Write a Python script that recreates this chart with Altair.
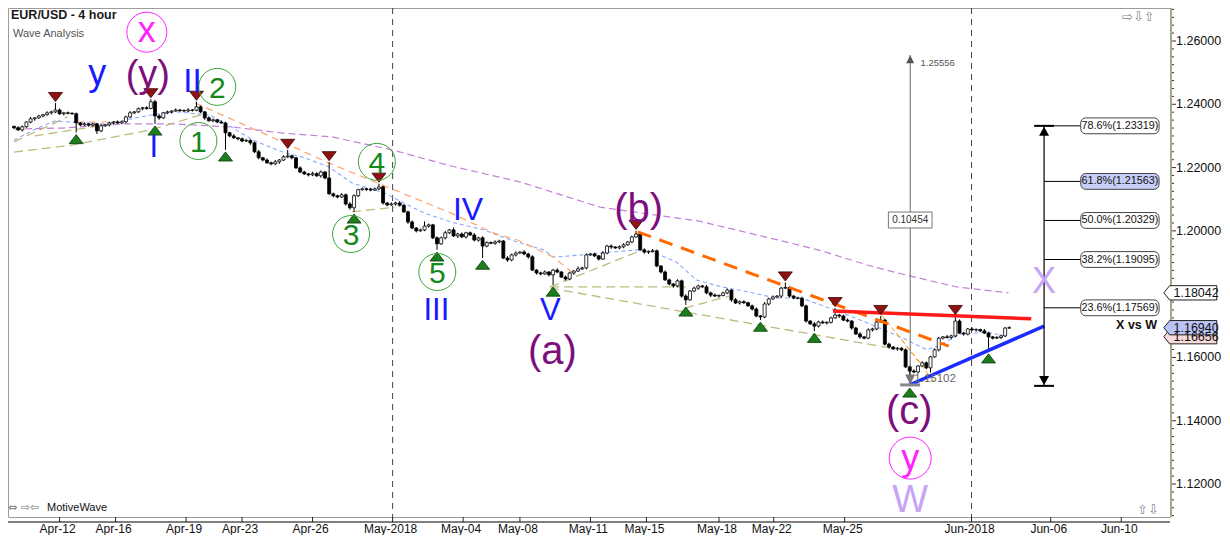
import altair as alt
import pandas as pd

# ---------------- data ----------------
first_open = 1.2330
closes = [
    1.2326, 1.2319, 1.2329, 1.2344, 1.2354, 1.2357, 1.2363, 1.2367, 1.2373, 1.2376,
    1.2382, 1.2370, 1.2373, 1.2372, 1.2370, 1.2341, 1.2335, 1.2338, 1.2334, 1.2338,
    1.2316, 1.2332, 1.2335, 1.2341, 1.2344, 1.2341, 1.2345, 1.2360, 1.2373, 1.2376,
    1.2386, 1.2389, 1.2387, 1.2408, 1.2363, 1.2357, 1.2373, 1.2376, 1.2379, 1.2382,
    1.2380, 1.2379, 1.2382, 1.2381, 1.2392, 1.2376, 1.2357, 1.2348, 1.2351, 1.2344,
    1.2341, 1.2310, 1.2300, 1.2294, 1.2291, 1.2284, 1.2286, 1.2278, 1.2250, 1.2231,
    1.2224, 1.2215, 1.2212, 1.2218, 1.2224, 1.2234, 1.2237, 1.2231, 1.2199, 1.2186,
    1.2180, 1.2177, 1.2181, 1.2174, 1.2186, 1.2167, 1.2117, 1.2111, 1.2107, 1.2114,
    1.2085, 1.2073, 1.2111, 1.2130, 1.2133, 1.2131, 1.2129, 1.2133, 1.2139, 1.2088,
    1.2082, 1.2085, 1.2088, 1.2081, 1.2060, 1.2028, 1.2009, 1.2000, 1.2003, 1.2015,
    1.2019, 1.1978, 1.1959, 1.1978, 1.1994, 1.2003, 1.1984, 1.1990, 1.1981, 1.1994,
    1.1987, 1.1971, 1.1978, 1.1952, 1.1963, 1.1961, 1.1965, 1.1968, 1.1914, 1.1908,
    1.1924, 1.1930, 1.1933, 1.1927, 1.1918, 1.1876, 1.1867, 1.1864, 1.1870, 1.1861,
    1.1876, 1.1870, 1.1854, 1.1848, 1.1867, 1.1873, 1.1880, 1.1883, 1.1924, 1.1927,
    1.1921, 1.1911, 1.1930, 1.1952, 1.1949, 1.1946, 1.1950, 1.1956, 1.1965, 1.1981,
    1.1990, 1.1940, 1.1933, 1.1935, 1.1937, 1.1889, 1.1870, 1.1845, 1.1832, 1.1826,
    1.1842, 1.1794, 1.1782, 1.1810, 1.1819, 1.1826, 1.1823, 1.1804, 1.1797, 1.1794,
    1.1796, 1.1804, 1.1813, 1.1782, 1.1772, 1.1776, 1.1773, 1.1763, 1.1753, 1.1731,
    1.1728, 1.1769, 1.1785, 1.1791, 1.1794, 1.1819, 1.1821, 1.1794, 1.1788, 1.1787,
    1.1763, 1.1715, 1.1706, 1.1699, 1.1712, 1.1709, 1.1711, 1.1725, 1.1734, 1.1731,
    1.1718, 1.1715, 1.1693, 1.1674, 1.1665, 1.1661, 1.1687, 1.1690, 1.1712, 1.1718,
    1.1642, 1.1633, 1.1627, 1.1629, 1.1624, 1.1570, 1.1557, 1.1554, 1.1573, 1.1583,
    1.1567, 1.1602, 1.1624, 1.1661, 1.1665, 1.1663, 1.1668, 1.1715, 1.1677, 1.1674,
    1.1690, 1.1687, 1.1688, 1.1684, 1.1677, 1.1665, 1.1661, 1.1663, 1.1668, 1.1693,
    1.1694,
]
upper_wick_pips = [
    3, 5, 4, 2, 6, 3, 4, 3, 5, 4,   22, 5, 3, 4, 2, 4, 3, 5, 2, 4,
    3, 6, 2, 4, 3, 5, 3, 4, 6, 3,   4, 3, 5, 8, 6, 5, 3, 4, 2, 5,
    3, 4, 6, 3, 16, 4, 3, 5, 4, 3,  5, 4, 3, 6, 2, 4, 5, 3, 4, 6,
    3, 5, 4, 6, 3, 5, 19, 4, 3, 5,  4, 3, 6, 4, 5, 3, 50, 4, 3, 5,
    4, 6, 5, 3, 4, 3, 5, 4, 10, 4,  3, 5, 4, 6, 3, 4, 5, 3, 4, 15,
    4, 3, 5, 4, 6, 3, 8, 4, 5, 3,   4, 6, 3, 5, 4, 3, 5, 4, 3, 6,
    4, 5, 3, 6, 4, 5, 3, 4, 5, 3,   4, 6, 3, 5, 4, 3, 8, 4, 5, 3,
    4, 3, 6, 4, 5, 3, 4, 5, 3, 4,   10, 4, 5, 3, 6, 4, 3, 5, 4, 3,
    5, 4, 6, 3, 5, 4, 3, 6, 4, 5,   3, 4, 5, 3, 6, 4, 5, 3, 4, 5,
    3, 6, 4, 5, 3, 4, 16, 5, 3, 4,  5, 4, 3, 6, 4, 5, 3, 4, 22, 4,
    4, 5, 3, 4, 6, 3, 5, 4, 3, 13,  4, 5, 3, 4, 3, 5, 4, 6, 3, 5,
    4, 3, 5, 4, 3, 6, 4, 16, 5, 4,  3, 5, 4, 3, 6, 4, 3, 5, 4, 3,
    4,
]
lower_wick_pips = [
    4, 3, 5, 3, 4, 6, 3, 4, 3, 5,   4, 3, 5, 4, 3, 30, 4, 3, 5, 4,
    10, 4, 3, 5, 4, 3, 4, 5, 3, 4,  3, 5, 4, 3, 25, 6, 3, 4, 5, 3,
    4, 3, 5, 4, 3, 4, 6, 3, 5, 4,   3, 54, 4, 3, 5, 4, 3, 6, 4, 5,
    4, 3, 5, 4, 6, 3, 4, 5, 3, 4,   3, 5, 4, 3, 6, 4, 3, 5, 4, 3,
    5, 6, 13, 4, 3, 5, 4, 3, 4, 5,  4, 3, 5, 4, 3, 6, 4, 5, 3, 4,
    5, 4, 19, 3, 5, 4, 3, 6, 4, 5,  3, 4, 5, 38, 4, 3, 5, 4, 3, 6,
    4, 5, 3, 4, 6, 3, 5, 4, 3, 5,   32, 4, 3, 5, 4, 6, 3, 4, 5, 3,
    4, 5, 3, 4, 6, 3, 4, 5, 3, 4,   3, 4, 5, 6, 3, 4, 5, 3, 4, 6,
    4, 5, 16, 3, 4, 5, 3, 4, 6, 3,  5, 3, 4, 6, 3, 5, 4, 3, 5, 4,
    10, 4, 5, 3, 4, 6, 3, 5, 4, 3,  4, 5, 3, 16, 4, 3, 5, 4, 3, 6,
    3, 4, 5, 3, 6, 4, 3, 5, 4, 3,   4, 5, 3, 6, 4, 3, 47, 4, 5, 3,
    4, 15, 3, 5, 4, 3, 6, 4, 3, 5,  4, 3, 5, 4, 3, 47, 4, 3, 5, 4,
    3,
]
swing_high_bars = [10, 33, 44, 66, 76, 88, 150, 186, 198, 209, 227]
swing_low_bars = [15, 34, 51, 82, 102, 113, 130, 162, 180, 193, 216, 235]

date_tick_pos = [11, 24.5, 41.5, 55, 72, 91.3, 108.3, 122, 139, 152.5, 170, 183.2, 200.3, 230.9, 250, 267]
date_tick_labels = ["Apr-12", "Apr-16", "Apr-19", "Apr-23", "Apr-26", "May-2018", "May-04", "May-08",
                    "May-11", "May-15", "May-18", "May-22", "May-25", "Jun-2018", "Jun-06", "Jun-10"]
month_start_pos = [91.3, 230.9]
# 1.18000 is hidden behind the 1.18042 price tag in the reference
price_labels = [1.12, 1.14, 1.16, 1.20, 1.22, 1.24, 1.26]

slow_ma_bar = [0, 12, 26.5, 38.5, 52.8, 64.8, 76.7, 91.1, 105.4, 122.2, 141.3, 153.2, 165.2,
               184.3, 193.9, 205.8, 213.0, 227.3, 239.8]
slow_ma_price = [1.2322, 1.2325, 1.2338, 1.2338, 1.2328, 1.2309, 1.2297, 1.2256, 1.2205, 1.2154,
                 1.2075, 1.2053, 1.2031, 1.1971, 1.1940, 1.1892, 1.1867, 1.1823, 1.18042]
fast_ma_bar = [0, 5.7, 9.8, 13.9, 21.8, 33.0, 39.2, 47.3, 53.6, 57.6, 61.7, 65.5, 69.6, 76.0,
               81.5, 89.4, 93.5, 99.0, 105.4, 113.3, 119.8, 127.7, 130.1, 137.0, 143.7, 150.8,
               154.0, 159.7, 164.5, 170.7, 177.1, 183.6, 189.8, 197.9, 205.8, 213.7, 220.2,
               223.3, 228.1, 234.5, 239.3]
fast_ma_price = [1.2287, 1.2325, 1.2347, 1.2344, 1.2338, 1.2366, 1.2376, 1.2366, 1.2319, 1.2287,
                 1.2265, 1.2246, 1.2233, 1.2202, 1.2151, 1.2120, 1.2091, 1.2056, 1.2028, 1.2003,
                 1.1971, 1.1940, 1.1917, 1.1924, 1.1933, 1.1940, 1.1933, 1.1902, 1.1845, 1.1823,
                 1.1807, 1.1788, 1.1788, 1.1750, 1.1709, 1.1665, 1.1624, 1.1639, 1.1674, 1.1680,
                 1.1668]
mid_ma_seg1_bar = [15.3, 25.8]
mid_ma_seg1_price = [1.2344, 1.2344]
mid_ma_seg2_bar = [43.7, 60.0, 76.0, 93.5, 105.4, 115.7, 121.4, 130.1, 134.8]
mid_ma_seg2_price = [1.2404, 1.2309, 1.2214, 1.2120, 1.2056, 1.1993, 1.1971, 1.1917, 1.1867]

olive_lines = [  # zig-zag connectors (bar, price)
    ([0, 13.9, 33.0, 45.7], [1.2249, 1.2271, 1.2319, 1.2369]),
    ([0, 12.9], [1.2281, 1.2360]),
    ([5.0, 24.9], [1.2300, 1.2341]),
    ([81.5, 91.8], [1.2060, 1.2075]),
    ([129.3, 150.8], [1.1823, 1.1936]),
    ([129.3, 162.8], [1.1823, 1.1823]),
    ([129.3, 179.5, 211.3], [1.1819, 1.1703, 1.1630]),
    ([161.8, 172.4], [1.1756, 1.1794]),
]
c_thin_lines = [([209.2, 219.0], [1.1734, 1.1576]), ([212.8, 221.9], [1.1677, 1.1523])]
orange_trend_bar = [150.4, 225.4]
orange_trend_price = [1.1997, 1.1636]
red_trend_bar = [197.5, 245.3]
red_trend_price = [1.1747, 1.1722]
blue_trend_bar = [215.9, 248.4]
blue_trend_price = [1.1513, 1.1699]

measure_bar = 216.11
measure_low = 1.15102
measure_high = 1.25556

fib_bar = 248.39
fib_top = 1.23319
fib_pct = ["78.6%", "61.8%", "50.0%", "38.2%", "23.6%"]
fib_price = [1.23319, 1.21563, 1.20329, 1.19095, 1.17569]

tag_prices = [1.16656, 1.16940, 1.18042]

# ---------------- derived tables ----------------
n = len(closes)
opens = [first_open] + closes[:-1]
highs = [round(max(o, c) + u * 0.0001, 5) for o, c, u in zip(opens, closes, upper_wick_pips)]
lows = [round(min(o, c) - d * 0.0001, 5) for o, c, d in zip(opens, closes, lower_wick_pips)]
candles = pd.DataFrame({"bar": list(range(n)), "open": opens, "close": closes, "high": highs, "low": lows})

W, H = 1162, 509
xs = alt.Scale(domain=[-0.239, 277.55], nice=False, zero=False)
ys = alt.Scale(domain=[1.10958, 1.27043], nice=False, zero=False)


def X(f="bar"):
    return alt.X(f"{f}:Q", scale=xs, axis=None)


def Y(f="price"):
    return alt.Y(f"{f}:Q", scale=ys, axis=None)


def poly(lines):
    rows = []
    for k, (bs, ps) in enumerate(lines):
        for b, p in zip(bs, ps):
            rows.append({"bar": b, "price": p, "seg": k})
    return pd.DataFrame(rows)


FONT = "Liberation Sans"
BLUE = "#1a1aff"
PURPLE = "#7d0f7d"
GREEN = "#14891a"
GREEN_C = "#3aa53a"
MAGENTA = "#ff22ff"
LAVENDER = "#c6a4f6"

layers = []

# month separators
layers.append(alt.Chart(pd.DataFrame({"bar": month_start_pos})).mark_rule(
    color="#444", strokeDash=[6, 5], strokeWidth=1).encode(x=X()))

# ---- axes drawn as marks ----
xlab = pd.DataFrame({"bar": date_tick_pos, "t": date_tick_labels})
layers.append(alt.Chart(xlab).mark_rule(color="#222").encode(
    x=X(), y=alt.value(H), y2=alt.value(H + 5)))
layers.append(alt.Chart(pd.DataFrame({"k": [0]})).mark_rule(color="black", strokeWidth=1).encode(
    x=alt.value(0), x2=alt.value(W), y=alt.value(H + 5)))
layers.append(alt.Chart(xlab).mark_text(align="center", baseline="top", font=FONT, fontSize=12,
                                        color="#111", dx=-2).encode(x=X(), y=alt.value(H + 7), text="t:N"))
ticks = pd.DataFrame({"price": [round(1.11 + 0.0025 * k, 4) for k in range(65)]})
ticks["major"] = [abs(p * 50 - round(p * 50)) < 1e-6 for p in ticks["price"]]
layers.append(alt.Chart(ticks[~ticks.major]).mark_rule(color="#333", strokeWidth=1).encode(
    y=Y(), x=alt.value(W), x2=alt.value(W + 4)))
layers.append(alt.Chart(ticks[ticks.major]).mark_rule(color="#333", strokeWidth=1).encode(
    y=Y(), x=alt.value(W), x2=alt.value(W + 6)))
layers.append(alt.Chart(pd.DataFrame({"k": [0]})).mark_rule(color="#a6a68a", strokeWidth=2).encode(
    x=alt.value(W + 1), y=alt.value(0), y2=alt.value(H)))
ylab = pd.DataFrame({"price": price_labels, "t": [f"{p:.5f}" for p in price_labels]})
layers.append(alt.Chart(ylab).mark_text(align="left", baseline="middle", font=FONT, fontSize=12.5,
                                        color="#111").encode(x=alt.value(W + 6), y=Y(), text="t:N"))

# moving averages
layers.append(alt.Chart(pd.DataFrame({"bar": slow_ma_bar, "price": slow_ma_price})).mark_line(
    color="#c57fd8", strokeDash=[7, 4], strokeWidth=1.2).encode(x=X(), y=Y()))
layers.append(alt.Chart(pd.DataFrame({"bar": fast_ma_bar, "price": fast_ma_price})).mark_line(
    color="#86a8ff", strokeDash=[4, 3], strokeWidth=1.1).encode(x=X(), y=Y()))
layers.append(alt.Chart(poly([(mid_ma_seg1_bar, mid_ma_seg1_price), (mid_ma_seg2_bar, mid_ma_seg2_price)]))
              .mark_line(color="#ffa36a", strokeDash=[7, 5], strokeWidth=1.2)
              .encode(x=X(), y=Y(), detail="seg:N"))
layers.append(alt.Chart(poly(olive_lines)).mark_line(
    color="#c0b97e", strokeDash=[9, 5], strokeWidth=1.3).encode(x=X(), y=Y(), detail="seg:N"))
layers.append(alt.Chart(poly(c_thin_lines)).mark_line(
    color="#ff9d1a", strokeDash=[5, 3], strokeWidth=1).encode(x=X(), y=Y(), detail="seg:N"))

# measurement tool
layers.append(alt.Chart(pd.DataFrame({"bar": [measure_bar], "lo": [measure_low], "hi": [measure_high]}))
              .mark_rule(color="#666", strokeWidth=1).encode(x=X(), y=Y("lo"), y2="hi:Q"))

# candles
layers.append(alt.Chart(candles).mark_rule(color="black", strokeWidth=1).encode(
    x=X(), y=Y("low"), y2="high:Q"))
layers.append(alt.Chart(candles).mark_bar(size=3, stroke="black", strokeWidth=0.8).encode(
    x=X(), y=Y("open"), y2="close:Q",
    fill=alt.condition("datum.close >= datum.open", alt.value("white"), alt.value("black"))))

# trend lines
layers.append(alt.Chart(pd.DataFrame({"bar": orange_trend_bar, "price": orange_trend_price})).mark_line(
    color="#ff6a00", strokeDash=[14, 9], strokeWidth=3).encode(x=X(), y=Y()))
layers.append(alt.Chart(pd.DataFrame({"bar": red_trend_bar, "price": red_trend_price})).mark_line(
    color="#ff1a1a", strokeWidth=3.5).encode(x=X(), y=Y()))
layers.append(alt.Chart(pd.DataFrame({"bar": blue_trend_bar, "price": blue_trend_price})).mark_line(
    color="#1a2cff", strokeWidth=3.5).encode(x=X(), y=Y()))

# swing markers
TRI_DOWN = "M-1,-0.65L1,-0.65L0,0.65Z"
TRI_UP = "M-1,0.65L1,0.65L0,-0.65Z"
hi_df = candles[candles.bar.isin(swing_high_bars)].assign(price=lambda d: d.high + 0.0019)
lo_df = candles[candles.bar.isin(swing_low_bars)].assign(price=lambda d: d.low - 0.0021)
layers.append(alt.Chart(hi_df).mark_point(shape=TRI_DOWN, size=196, filled=True, fill="#8e1212",
                                          stroke="#3a0000", strokeWidth=0.8, opacity=1)
              .encode(x=X(), y=Y()))
layers.append(alt.Chart(lo_df).mark_point(shape=TRI_UP, size=196, filled=True, fill="#1d7d1d",
                                          stroke="#063806", strokeWidth=0.8, opacity=1)
              .encode(x=X(), y=Y()))

# measurement tool details
SMALL_UP = "M-1,1L1,1L0,-1Z"
SMALL_DOWN = "M-1,-1L1,-1L0,1Z"
layers.append(alt.Chart(pd.DataFrame({"bar": [measure_bar], "price": [measure_high - 0.0013]}))
              .mark_point(shape=SMALL_UP, size=64, filled=True, fill="#555", opacity=1).encode(x=X(), y=Y()))
layers.append(alt.Chart(pd.DataFrame({"bar": [218.6], "price": [1.2521], "t": [f"{measure_high:.5f}"]}))
              .mark_text(align="left", baseline="alphabetic", font=FONT, fontSize=9.5, color="#555")
              .encode(x=X(), y=Y(), text="t:N"))
layers.append(alt.Chart(pd.DataFrame({"bar": [210.85], "bar2": [221.37], "p1": [1.20091], "p2": [1.20596]}))
              .mark_rect(fill="white", stroke="#777", strokeWidth=1)
              .encode(x=X(), x2="bar2:Q", y=Y("p1"), y2="p2:Q"))
layers.append(alt.Chart(pd.DataFrame({"bar": [measure_bar], "price": [1.20344],
                                      "t": [f"{measure_high - measure_low:.5f}"]}))
              .mark_text(align="center", baseline="middle", font=FONT, fontSize=10, color="#333")
              .encode(x=X(), y=Y(), text="t:N"))
layers.append(alt.Chart(pd.DataFrame({"bar": [213.7], "bar2": [218.5], "price": [measure_low + 0.0003]}))
              .mark_rule(color="#888", strokeWidth=3).encode(x=X(), x2="bar2:Q", y=Y()))
layers.append(alt.Chart(pd.DataFrame({"bar": [measure_bar], "price": [measure_low + 0.0020]}))
              .mark_point(shape=SMALL_DOWN, size=100, filled=True, fill="#777", opacity=1).encode(x=X(), y=Y()))
layers.append(alt.Chart(pd.DataFrame({"bar": [217.1], "price": [1.1521], "t": [f"{measure_low:.5f}"]}))
              .mark_text(align="left", baseline="alphabetic", font=FONT, fontSize=11.5, color="#666")
              .encode(x=X(), y=Y(), text="t:N"))

# fibonacci tool
fib = pd.DataFrame({"pct": fib_pct, "price": fib_price})
fib["label"] = [f"{p}({v:.5f})" for p, v in zip(fib_pct, fib_price)]
fib["fill"] = ["#c6cef7" if p == "61.8%" else "white" for p in fib_pct]
fib["bar"] = fib_bar
fib["bar2"] = 257.23
fib["bx1"] = 257.23
fib["bx2"] = 276.12
fib["p1"] = fib["price"] - 0.0025
fib["p2"] = fib["price"] + 0.0025
fib["tx"] = 266.7
layers.append(alt.Chart(pd.DataFrame({"bar": [fib_bar], "lo": [measure_low], "hi": [fib_top]}))
              .mark_rule(color="black", strokeWidth=1.2).encode(x=X(), y=Y("lo"), y2="hi:Q"))
layers.append(alt.Chart(pd.DataFrame({"bar": [fib_bar - 2.4] * 2, "bar2": [fib_bar + 2.4] * 2,
                                      "price": [fib_top, measure_low]}))
              .mark_rule(color="black", strokeWidth=2).encode(x=X(), x2="bar2:Q", y=Y()))
layers.append(alt.Chart(pd.DataFrame({"bar": [fib_bar], "price": [fib_top - 0.0017]}))
              .mark_point(shape="M-1,0.9L1,0.9L0,-0.9Z", size=100, filled=True, fill="black", opacity=1)
              .encode(x=X(), y=Y()))
layers.append(alt.Chart(pd.DataFrame({"bar": [fib_bar], "price": [measure_low + 0.0017]}))
              .mark_point(shape="M-1,-0.9L1,-0.9L0,0.9Z", size=100, filled=True, fill="black", opacity=1)
              .encode(x=X(), y=Y()))
layers.append(alt.Chart(fib).mark_rule(color="black", strokeWidth=1).encode(x=X(), x2="bar2:Q", y=Y()))
layers.append(alt.Chart(fib).mark_rect(stroke="#444", strokeWidth=1, cornerRadius=5).encode(
    x=X("bx1"), x2="bx2:Q", y=Y("p1"), y2="p2:Q", fill=alt.Fill("fill:N", scale=None)))
layers.append(alt.Chart(fib).mark_text(align="center", baseline="middle", font=FONT, fontSize=10.8,
                                       color="#111").encode(x=X("tx"), y=Y(), text="label:N"))
layers.append(alt.Chart(pd.DataFrame({"bar": [275.64], "price": [1.1690], "t": ["X vs W"]}))
              .mark_text(align="right", baseline="alphabetic", font=FONT, fontSize=12.5,
                         fontWeight="bold", color="#111").encode(x=X(), y=Y(), text="t:N"))

# wave labels
wave = pd.DataFrame([
    ("x", 32.03, 1.2597, MAGENTA, 36), ("y", 20.08, 1.2461, BLUE, 36),
    ("(y)", 32.27, 1.2455, PURPLE, 38), ("II", 43.03, 1.2439, BLUE, 33),
    ("I", 33.71, 1.2233, BLUE, 31), ("2", 49.01, 1.2421, GREEN, 30),
    ("1", 44.47, 1.2250, GREEN, 30), ("4", 87.50, 1.2184, GREEN, 30),
    ("3", 81.28, 1.1956, GREEN, 30), ("5", 102.08, 1.1836, GREEN, 30),
    ("IV", 109.49, 1.2034, BLUE, 32), ("III", 101.84, 1.1718, BLUE, 31),
    ("V", 129.33, 1.1718, BLUE, 31), ("(a)", 129.81, 1.1579, PURPLE, 40),
    ("(b)", 150.61, 1.2028, PURPLE, 40), ("(c)", 215.88, 1.1390, PURPLE, 40),
    ("y", 216.11, 1.1244, MAGENTA, 36), ("W", 216.11, 1.1112, LAVENDER, 38),
    ("X", 248.39, 1.1804, LAVENDER, 36),
], columns=["t", "bar", "price", "color", "size"])
circles = pd.DataFrame([
    (32.03, 1.2628, 40, MAGENTA), (49.01, 1.2455, 37, GREEN_C), (44.47, 1.2284, 37, GREEN_C),
    (87.50, 1.2218, 37, GREEN_C), (81.28, 1.1990, 37, GREEN_C), (102.08, 1.1870, 37, GREEN_C),
    (216.11, 1.1282, 42, MAGENTA),
], columns=["bar", "price", "d", "color"])
circles["area"] = circles["d"] ** 2
layers.append(alt.Chart(circles).mark_point(shape="circle", filled=False, strokeWidth=1, opacity=1).encode(
    x=X(), y=Y(), size=alt.Size("area:Q", scale=None), color=alt.Color("color:N", scale=None)))
layers.append(alt.Chart(wave).mark_text(align="center", baseline="alphabetic", font=FONT).encode(
    x=X(), y=Y(), text="t:N", color=alt.Color("color:N", scale=None), size=alt.Size("size:Q", scale=None)))

# price tags on the axis (the 1.16656 tag sits mostly behind the current-price tag)
TAG = "M-1,0L-0.78,-0.27L1,-0.27L1,0.27L-0.78,0.27Z"
tags = pd.DataFrame({"price": tag_prices, "fill": ["#f7d9d9", "#b9c3f5", "white"]})
tags["t"] = [f"{p:.5f}" for p in tag_prices]
tags["bar"] = 283.65
tags["tx"] = 279.6
layers.append(alt.Chart(tags).mark_point(shape=TAG, size=2809, filled=True, stroke="#222",
                                         strokeWidth=1, opacity=1).encode(
    x=X(), y=Y(), fill=alt.Fill("fill:N", scale=None)))
layers.append(alt.Chart(tags).mark_text(align="left", baseline="middle", font=FONT, fontSize=12.5,
                                        color="#111").encode(x=X("tx"), y=Y(), text="t:N"))

# static chart furniture
ui = pd.DataFrame({"k": [0]})
layers.append(alt.Chart(ui).mark_text(align="left", baseline="alphabetic", font=FONT, fontSize=12.5,
                                      fontWeight="bold", color="#1a1a1a")
              .encode(x=alt.value(3), y=alt.value(11), text=alt.value("EUR/USD - 4 hour")))
layers.append(alt.Chart(ui).mark_text(align="left", baseline="alphabetic", font=FONT, fontSize=11,
                                      color="#555")
              .encode(x=alt.value(5), y=alt.value(29), text=alt.value("Wave Analysis")))
layers.append(alt.Chart(ui).mark_text(align="left", baseline="alphabetic", font="DejaVu Sans",
                                      fontSize=11, color="#777")
              .encode(x=alt.value(0), y=alt.value(503), text=alt.value("⇔ ⇨⇦")))
layers.append(alt.Chart(ui).mark_text(align="left", baseline="alphabetic", font=FONT, fontSize=11,
                                      color="#111")
              .encode(x=alt.value(39), y=alt.value(503), text=alt.value("MotiveWave")))
layers.append(alt.Chart(ui).mark_text(align="left", baseline="alphabetic", font="DejaVu Sans",
                                      fontSize=13, color="#888")
              .encode(x=alt.value(1114), y=alt.value(13), text=alt.value("⇨⇩⇧")))
layers.append(alt.Chart(ui).mark_text(align="left", baseline="alphabetic", font="DejaVu Sans",
                                      fontSize=13, color="#888")
              .encode(x=alt.value(1129), y=alt.value(506), text=alt.value("⇧⇩")))

chart = alt.layer(*layers).properties(
    width=W, height=H,
    autosize=alt.AutoSizeParams(type="none"),
    padding={"left": 0, "top": 0, "right": 52, "bottom": 18},
    background="white",
).configure_view(stroke="#9c9c9c", strokeWidth=1)

chart.save("out.html", embed_options={"renderer": "svg", "actions": False})
